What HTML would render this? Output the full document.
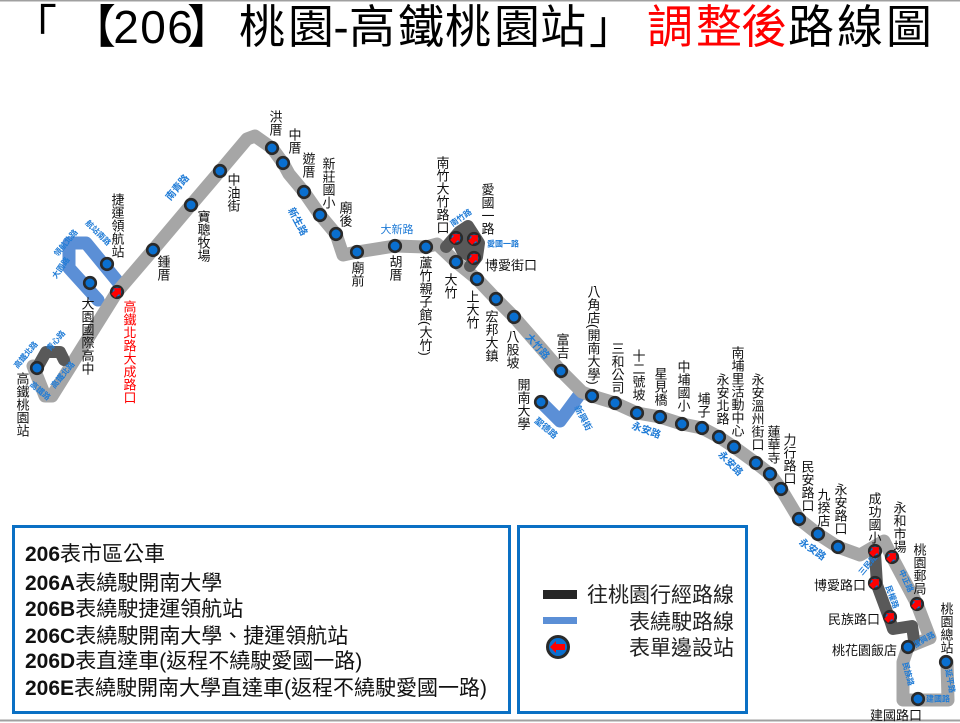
<!DOCTYPE html>
<html><head><meta charset="utf-8">
<style>
html,body{margin:0;padding:0;background:#fff;}
body{width:960px;height:723px;position:relative;overflow:hidden;font-family:"Liberation Sans","Noto Sans CJK TC",sans-serif;}
.v{position:absolute;writing-mode:vertical-rl;font-size:13px;line-height:13px;width:13px;white-space:nowrap;color:#111;font-family:"Liberation Sans","Noto Sans CJK TC",sans-serif;}
.red{color:#ff0000;}
</style></head>
<body>
<svg width="960" height="723" style="position:absolute;left:0;top:0" font-family="'Liberation Sans','Noto Sans CJK TC',sans-serif">
<defs>
<g id="s"><circle r="5.8" fill="#0a6fcf" stroke="#2a2a2a" stroke-width="2.6"/></g>
<g id="r"><circle r="5.8" fill="#0a6fcf" stroke="#2a2a2a" stroke-width="2.6"/><polygon points="5.5,0 0,-5.5 0,-2.8 -5.5,-2.8 -5.5,2.8 0,2.8 0,5.5" fill="#ff0000" transform="rotate(-45)"/></g>
</defs>
<rect x="0" y="0" width="960" height="1.5" fill="#a0a0a0"/>
<rect x="0" y="719.5" width="960" height="2" fill="#a0a0a0"/>

<!-- title -->
<g font-size="46" fill="#000" text-anchor="middle" font-family="'Liberation Sans','Noto Sans CJK TC',sans-serif">
<text x="34" y="43">「</text><text x="93" y="43">【</text>
<text x="126" y="43">2</text><text x="153" y="43">0</text><text x="180" y="43">6</text>
<text x="210" y="43">】</text><text x="262" y="43">桃</text><text x="311" y="43">園</text>
<text x="341" y="43">-</text><text x="372" y="43">高</text><text x="421" y="43">鐵</text>
<text x="468" y="43">桃</text><text x="517" y="43">園</text><text x="563" y="43">站</text>
<text x="612" y="43">」</text>
<text x="670" y="43" fill="#ff0000">調</text><text x="719" y="43" fill="#ff0000">整</text><text x="764" y="43" fill="#ff0000">後</text>
<text x="811" y="43">路</text><text x="860" y="43">線</text><text x="909" y="43">圖</text>
</g>

<!-- blue detours -->
<g fill="none" stroke="#5b8fd6" stroke-width="13" stroke-linejoin="round" stroke-linecap="round">
<path d="M118,282 L86,243 L69,243 L69,268 L98,300"/>
<path d="M541,402 L560,421 L580,394"/>
</g>

<!-- main gray -->
<path fill="none" stroke="#a6a6a6" stroke-width="13" stroke-linejoin="round" stroke-linecap="round" d="M33,366 L45,396 L52,396 L117,292 L153,250 L191,205 L220,171 L247,139 L255,136 L272,148 L283,163 L289,174 L304,192 L320,215 L336,234 L343,255 L357,252 L395,246 L426,247 L437,244 L456,262 L477,279 L496,299 L514,317 L561,371 L582,392 L592,396 L615,403 L637,413 L660,417 L682,424 L702,428 L719,437 L734,447 L756,463 L770,474 L781,489 L799,519 L818,534 L838,547 L860,555 L872,548 L884,541 L892,557 L917,604 L930,638 L908,647 L903,662 L903,700 L948,700 L947,662"/>

<!-- dark gray -->
<polygon points="452,244 467,229 476,244 473,256 466,261 458,256" fill="#595959"/>
<g fill="none" stroke="#595959" stroke-width="12" stroke-linejoin="round" stroke-linecap="round">
<path d="M37,368 L46,352 L60,352 L64,360"/>
<path d="M446,247 L459,232 L468,226 L479,243 L477,257 L470,266"/>
<path d="M875,553 L877,585 L890,620 L893,629 L912,626 L914,640"/>
</g>

<!-- road labels -->
<g fill="#1f7bd6" font-size="9" font-weight="bold" text-anchor="middle" dominant-baseline="central">
<text transform="translate(178,188) rotate(-50)" font-size="10">南青路</text>
<text transform="translate(297,222) rotate(62)" font-size="10">新生路</text>
<text transform="translate(397,230)" font-size="11" font-weight="normal">大新路</text>
<text transform="translate(461,218) rotate(-35)" font-size="8">南竹路</text>
<text transform="translate(503,244)" font-size="8">愛國一路</text>
<text transform="translate(537,347) rotate(48)" font-size="10">大竹路</text>
<text transform="translate(583,418) rotate(62)" font-size="9">新興街</text>
<text transform="translate(546,428) rotate(40)" font-size="9">聖德路</text>
<text transform="translate(646,431) rotate(20)" font-size="10">永安路</text>
<text transform="translate(730,464) rotate(45)" font-size="10">永安路</text>
<text transform="translate(812,550) rotate(35)" font-size="10">永安路</text>
<text transform="translate(868,565) rotate(-50)" font-size="8">三民路</text>
<text transform="translate(892,597) rotate(70)" font-size="8">民權路</text>
<text transform="translate(906,581) rotate(65)" font-size="8">中正路</text>
<text transform="translate(924,640) rotate(-30)" font-size="8">復興路</text>
<text transform="translate(908,674) rotate(75)" font-size="8">民族路</text>
<text transform="translate(938,699)" font-size="8">建國路</text>
<text transform="translate(950,681) rotate(80)" font-size="8">延平路</text>
<text transform="translate(66,243) rotate(-50)" font-size="8">領航北路</text>
<text transform="translate(98,233) rotate(45)" font-size="8">航站南路</text>
<text transform="translate(61,268) rotate(-55)" font-size="8">大園路</text>
<text transform="translate(26,355) rotate(-50)" font-size="8">高鐵北路</text>
<text transform="translate(56,341) rotate(-50)" font-size="8">青心路</text>
<text transform="translate(63,375) rotate(-50)" font-size="8">高鐵北路</text>
<text transform="translate(40,391) rotate(40)" font-size="8">高鐵路</text>
</g>

<!-- stations -->
<use href="#s" x="37" y="368"/><use href="#s" x="90" y="283"/><use href="#s" x="107" y="264"/>
<use href="#s" x="153" y="250"/><use href="#s" x="191" y="205"/><use href="#s" x="220" y="171"/>
<use href="#s" x="272" y="148"/><use href="#s" x="283" y="163"/><use href="#s" x="304" y="192"/>
<use href="#s" x="320" y="215"/><use href="#s" x="336" y="234"/><use href="#s" x="357" y="252"/>
<use href="#s" x="395" y="246"/><use href="#s" x="426" y="247"/><use href="#s" x="456" y="262"/>
<use href="#s" x="477" y="279"/><use href="#s" x="496" y="299"/><use href="#s" x="514" y="317"/>
<use href="#s" x="561" y="371"/><use href="#s" x="541" y="402"/><use href="#s" x="592" y="396"/>
<use href="#s" x="615" y="403"/><use href="#s" x="637" y="413"/><use href="#s" x="660" y="417"/>
<use href="#s" x="682" y="424"/><use href="#s" x="702" y="428"/><use href="#s" x="719" y="437"/>
<use href="#s" x="734" y="447"/><use href="#s" x="756" y="463"/><use href="#s" x="770" y="474"/>
<use href="#s" x="781" y="489"/><use href="#s" x="799" y="519"/><use href="#s" x="818" y="534"/>
<use href="#s" x="838" y="547"/><use href="#s" x="908" y="647"/><use href="#s" x="946" y="662"/>
<use href="#s" x="918" y="699"/>
<use href="#r" x="117" y="292"/><use href="#r" x="456" y="238"/><use href="#r" x="474" y="239"/>
<use href="#r" x="474" y="258"/><use href="#r" x="875" y="551"/><use href="#r" x="892" y="557"/>
<use href="#r" x="875" y="583"/><use href="#r" x="917" y="604"/><use href="#r" x="890" y="617"/>

<!-- horizontal station labels -->
<g font-size="13" fill="#111">
<text x="485" y="270">博愛街口</text>
<text x="866" y="590" text-anchor="end">博愛路口</text>
<text x="880" y="624" text-anchor="end">民族路口</text>
<text x="897" y="655" text-anchor="end">桃花園飯店</text>
<text x="870" y="720">建國路口</text>
</g>

<!-- legend box 1 -->
<rect x="13.5" y="526.5" width="496" height="186" fill="none" stroke="#0a70c4" stroke-width="3"/>
<g font-size="21" fill="#111">
<text x="25" y="561"><tspan font-weight="bold">206</tspan>表市區公車</text>
<text x="25" y="590"><tspan font-weight="bold">206A</tspan>表繞駛開南大學</text>
<text x="25" y="616"><tspan font-weight="bold">206B</tspan>表繞駛捷運領航站</text>
<text x="25" y="643"><tspan font-weight="bold">206C</tspan>表繞駛開南大學、捷運領航站</text>
<text x="25" y="668"><tspan font-weight="bold">206D</tspan>表直達車(返程不繞駛愛國一路)</text>
<text x="25" y="695"><tspan font-weight="bold">206E</tspan>表繞駛開南大學直達車(返程不繞駛愛國一路)</text>
</g>

<!-- legend box 2 -->
<rect x="518.5" y="526.5" width="228" height="186" fill="none" stroke="#0a70c4" stroke-width="3"/>
<rect x="543" y="590" width="34" height="9" fill="#262626"/>
<rect x="543" y="617" width="34" height="7" fill="#5b8fd6"/>
<circle cx="558" cy="647" r="10.5" fill="#0a6fcf" stroke="#2a2a2a" stroke-width="3"/>
<polygon points="550,647 556,641 556,644 565,644 565,650 556,650 556,653" fill="#ff0000"/>
<g font-size="21" fill="#222" text-anchor="end">
<text x="734" y="602">往桃園行經路線</text>
<text x="734" y="629">表繞駛路線</text>
<text x="734" y="655">表單邊設站</text>
</g>
</svg>

<!-- vertical station labels -->
<div class="v" style="left:15.5px;top:372px">高鐵桃園站</div>
<div class="v" style="left:80.5px;top:297px">大園國際高中</div>
<div class="v red" style="left:122.5px;top:300px">高鐵北路大成路口</div>
<div class="v" style="left:110.5px;top:193px">捷運領航站</div>
<div class="v" style="left:156.5px;top:255px">鍾厝</div>
<div class="v" style="left:196.5px;top:210px">寶聰牧場</div>
<div class="v" style="left:226.5px;top:173px">中油街</div>
<div class="v" style="left:268.5px;top:110px">洪厝</div>
<div class="v" style="left:287.5px;top:128px">中厝</div>
<div class="v" style="left:301.5px;top:152px">遊厝</div>
<div class="v" style="left:321.5px;top:157px">新莊國小</div>
<div class="v" style="left:338.5px;top:201px">廟後</div>
<div class="v" style="left:350.5px;top:261px">廟前</div>
<div class="v" style="left:388.5px;top:255px">胡厝</div>
<div class="v" style="left:418.5px;top:256px">蘆竹親子館(大竹)</div>
<div class="v" style="left:435.5px;top:156px">南竹大竹路口</div>
<div class="v" style="left:480.5px;top:183px">愛國一路</div>
<div class="v" style="left:443.5px;top:273px">大竹</div>
<div class="v" style="left:465.5px;top:290px">上大竹</div>
<div class="v" style="left:484.5px;top:310px">宏邦大鎮</div>
<div class="v" style="left:505.5px;top:330px">八股坡</div>
<div class="v" style="left:555.5px;top:333px">富吉</div>
<div class="v" style="left:586.5px;top:285px">八角店(開南大學)</div>
<div class="v" style="left:516.5px;top:378px">開南大學</div>
<div class="v" style="left:610.5px;top:342px">三和公司</div>
<div class="v" style="left:631.5px;top:349px">十二號坡</div>
<div class="v" style="left:653.5px;top:367px">星見橋</div>
<div class="v" style="left:676.5px;top:360px">中埔國小</div>
<div class="v" style="left:696.5px;top:392px">埔子</div>
<div class="v" style="left:715.5px;top:373px">永安北路</div>
<div class="v" style="left:730.5px;top:346px">南埔里活動中心</div>
<div class="v" style="left:750.5px;top:373px">永安溫州街口</div>
<div class="v" style="left:766.5px;top:425px">蓮華寺</div>
<div class="v" style="left:782.5px;top:433px">力行路口</div>
<div class="v" style="left:800.5px;top:460px">民安路口</div>
<div class="v" style="left:816.5px;top:488px">九揆店</div>
<div class="v" style="left:833.5px;top:483px">永安路口</div>
<div class="v" style="left:867.5px;top:492px">成功國小</div>
<div class="v" style="left:892.5px;top:501px">永和市場</div>
<div class="v" style="left:912.5px;top:543px">桃園郵局</div>
<div class="v" style="left:939.5px;top:602px">桃園總站</div>
</body></html>
